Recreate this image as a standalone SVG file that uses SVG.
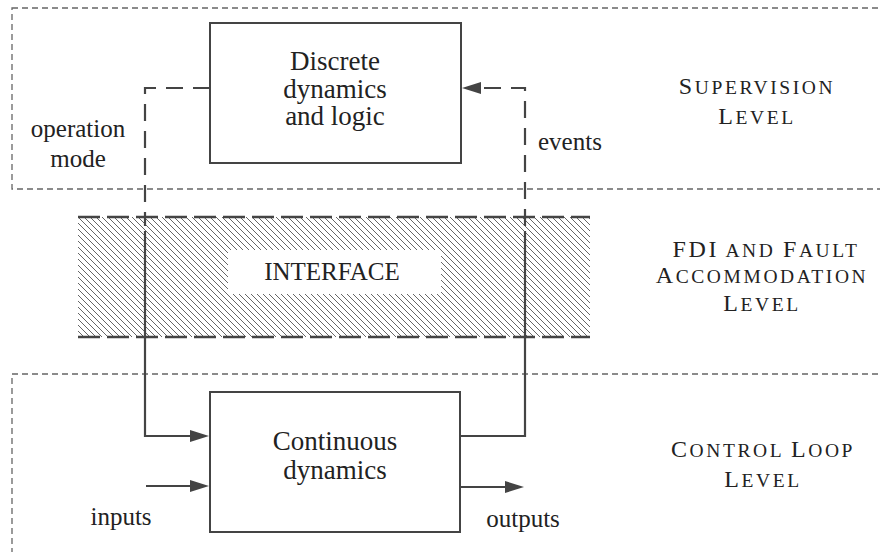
<svg xmlns="http://www.w3.org/2000/svg" width="880" height="552" viewBox="0 0 880 552">
  <rect width="880" height="552" fill="#fff"/>

  <!-- level frames -->
  <g id="levels" fill="none" stroke="#666" stroke-width="1.3" stroke-dasharray="6 4">
    <rect x="12" y="8" width="890" height="181"/>
    <rect x="12" y="374" width="890" height="200"/>
  </g>

  <!-- hatched interface band: 45-degree strokes every 6px, trimmed by white side masks -->
  <g id="interface">
    <path fill="none" stroke="#555" stroke-width="0.9" d="M-42,217l120,120
      m-114,-120l120,120 m-114,-120l120,120 m-114,-120l120,120 m-114,-120l120,120 m-114,-120l120,120
      m-114,-120l120,120 m-114,-120l120,120 m-114,-120l120,120 m-114,-120l120,120 m-114,-120l120,120
      m-114,-120l120,120 m-114,-120l120,120 m-114,-120l120,120 m-114,-120l120,120 m-114,-120l120,120
      m-114,-120l120,120 m-114,-120l120,120 m-114,-120l120,120 m-114,-120l120,120 m-114,-120l120,120
      m-114,-120l120,120 m-114,-120l120,120 m-114,-120l120,120 m-114,-120l120,120 m-114,-120l120,120
      m-114,-120l120,120 m-114,-120l120,120 m-114,-120l120,120 m-114,-120l120,120 m-114,-120l120,120
      m-114,-120l120,120 m-114,-120l120,120 m-114,-120l120,120 m-114,-120l120,120 m-114,-120l120,120
      m-114,-120l120,120 m-114,-120l120,120 m-114,-120l120,120 m-114,-120l120,120 m-114,-120l120,120
      m-114,-120l120,120 m-114,-120l120,120 m-114,-120l120,120 m-114,-120l120,120 m-114,-120l120,120
      m-114,-120l120,120 m-114,-120l120,120 m-114,-120l120,120 m-114,-120l120,120 m-114,-120l120,120
      m-114,-120l120,120 m-114,-120l120,120 m-114,-120l120,120 m-114,-120l120,120 m-114,-120l120,120
      m-114,-120l120,120 m-114,-120l120,120 m-114,-120l120,120 m-114,-120l120,120 m-114,-120l120,120
      m-114,-120l120,120 m-114,-120l120,120 m-114,-120l120,120 m-114,-120l120,120 m-114,-120l120,120
      m-114,-120l120,120 m-114,-120l120,120 m-114,-120l120,120 m-114,-120l120,120 m-114,-120l120,120
      m-114,-120l120,120 m-114,-120l120,120 m-114,-120l120,120 m-114,-120l120,120 m-114,-120l120,120
      m-114,-120l120,120 m-114,-120l120,120 m-114,-120l120,120 m-114,-120l120,120 m-114,-120l120,120
      m-114,-120l120,120 m-114,-120l120,120 m-114,-120l120,120 m-114,-120l120,120 m-114,-120l120,120
      m-114,-120l120,120 m-114,-120l120,120 m-114,-120l120,120 m-114,-120l120,120 m-114,-120l120,120
      m-114,-120l120,120 m-114,-120l120,120 m-114,-120l120,120 m-114,-120l120,120 m-114,-120l120,120
      m-114,-120l120,120 m-114,-120l120,120 m-114,-120l120,120 m-114,-120l120,120 m-114,-120l120,120
      m-114,-120l120,120 m-114,-120l120,120 m-114,-120l120,120 m-114,-120l120,120 m-114,-120l120,120"/>
    <g fill="#fff">
      <rect x="0" y="215" width="78" height="124"/>
      <rect x="590" y="215" width="130" height="124"/>
    </g>
    <g stroke="#444" stroke-width="2.5" stroke-dasharray="22 7">
      <line x1="78" y1="217" x2="590" y2="217"/>
      <line x1="78" y1="337" x2="590" y2="337"/>
    </g>
  </g>

  <!-- connectors -->
  <g id="connectors" fill="none" stroke="#444" stroke-width="2.2">
    <path d="M210,88 H145 V226" stroke-dasharray="17 10"/>
    <path d="M145,231 V436 H192"/>
    <path d="M460,436 H525 V231"/>
    <path d="M525,226 V88 H480" stroke-dasharray="17 10"/>
    <path d="M146,486 H192"/>
    <path d="M460,487 H506"/>
    <g fill="#444" stroke="none">
      <polygon points="209,436 190,430 190,442"/>
      <polygon points="462,88 481,82 481,94"/>
      <polygon points="209,486 190,480 190,492"/>
      <polygon points="524,487 505,481 505,493"/>
    </g>
  </g>

  <g id="interface-label">
    <rect x="228" y="250" width="213" height="44" fill="#fff"/>
    <text x="332" y="280" font-family="Liberation Serif, Tinos, Times New Roman, Nimbus Roman, Noto Serif, DejaVu Serif, serif" font-size="25" fill="#222" text-anchor="middle">INTERFACE</text>
  </g>

  <g id="discrete" font-size="27" fill="#222" text-anchor="middle">
    <rect x="210" y="23" width="251" height="140" fill="#fff" stroke="#444" stroke-width="2"/>
    <text x="335" y="70" font-family="Liberation Serif, Tinos, Times New Roman, Nimbus Roman, Noto Serif, DejaVu Serif, serif">Discrete</text>
    <text x="335" y="98" font-family="Liberation Serif, Tinos, Times New Roman, Nimbus Roman, Noto Serif, DejaVu Serif, serif">dynamics</text>
    <text x="335" y="125" font-family="Liberation Serif, Tinos, Times New Roman, Nimbus Roman, Noto Serif, DejaVu Serif, serif">and logic</text>
  </g>

  <g id="continuous" font-size="27" fill="#222" text-anchor="middle">
    <rect x="210" y="392" width="250" height="140" fill="#fff" stroke="#444" stroke-width="2"/>
    <text x="335" y="450" font-family="Liberation Serif, Tinos, Times New Roman, Nimbus Roman, Noto Serif, DejaVu Serif, serif">Continuous</text>
    <text x="335" y="479" font-family="Liberation Serif, Tinos, Times New Roman, Nimbus Roman, Noto Serif, DejaVu Serif, serif">dynamics</text>
  </g>

  <!-- connector labels -->
  <g id="labels" font-size="25" fill="#222">
    <text x="78" y="137" text-anchor="middle" font-family="Liberation Serif, Tinos, Times New Roman, Nimbus Roman, Noto Serif, DejaVu Serif, serif">operation</text>
    <text x="78" y="167" text-anchor="middle" font-family="Liberation Serif, Tinos, Times New Roman, Nimbus Roman, Noto Serif, DejaVu Serif, serif">mode</text>
    <text x="538" y="150" font-family="Liberation Serif, Tinos, Times New Roman, Nimbus Roman, Noto Serif, DejaVu Serif, serif">events</text>
    <text x="121" y="525" text-anchor="middle" font-family="Liberation Serif, Tinos, Times New Roman, Nimbus Roman, Noto Serif, DejaVu Serif, serif">inputs</text>
    <text x="523" y="527" text-anchor="middle" font-family="Liberation Serif, Tinos, Times New Roman, Nimbus Roman, Noto Serif, DejaVu Serif, serif">outputs</text>
  </g>

  <!-- level names, set in small capitals -->
  <g id="level-names" font-size="19.5" fill="#222" text-anchor="middle" letter-spacing="2.6">
    <text x="757" y="94" font-family="Liberation Serif, Tinos, Times New Roman, Nimbus Roman, Noto Serif, DejaVu Serif, serif"><tspan font-size="24">S</tspan>UPERVISION</text>
    <text x="757" y="124" font-family="Liberation Serif, Tinos, Times New Roman, Nimbus Roman, Noto Serif, DejaVu Serif, serif"><tspan font-size="24">L</tspan>EVEL</text>
    <text x="766" y="257" font-family="Liberation Serif, Tinos, Times New Roman, Nimbus Roman, Noto Serif, DejaVu Serif, serif"><tspan font-size="24">FDI</tspan> AND <tspan font-size="24">F</tspan>AULT</text>
    <text x="762" y="283" font-family="Liberation Serif, Tinos, Times New Roman, Nimbus Roman, Noto Serif, DejaVu Serif, serif"><tspan font-size="24">A</tspan>CCOMMODATION</text>
    <text x="762" y="311" font-family="Liberation Serif, Tinos, Times New Roman, Nimbus Roman, Noto Serif, DejaVu Serif, serif"><tspan font-size="24">L</tspan>EVEL</text>
    <text x="763" y="457" font-family="Liberation Serif, Tinos, Times New Roman, Nimbus Roman, Noto Serif, DejaVu Serif, serif"><tspan font-size="24">C</tspan>ONTROL <tspan font-size="24">L</tspan>OOP</text>
    <text x="763" y="487" font-family="Liberation Serif, Tinos, Times New Roman, Nimbus Roman, Noto Serif, DejaVu Serif, serif"><tspan font-size="24">L</tspan>EVEL</text>
  </g>
</svg>
